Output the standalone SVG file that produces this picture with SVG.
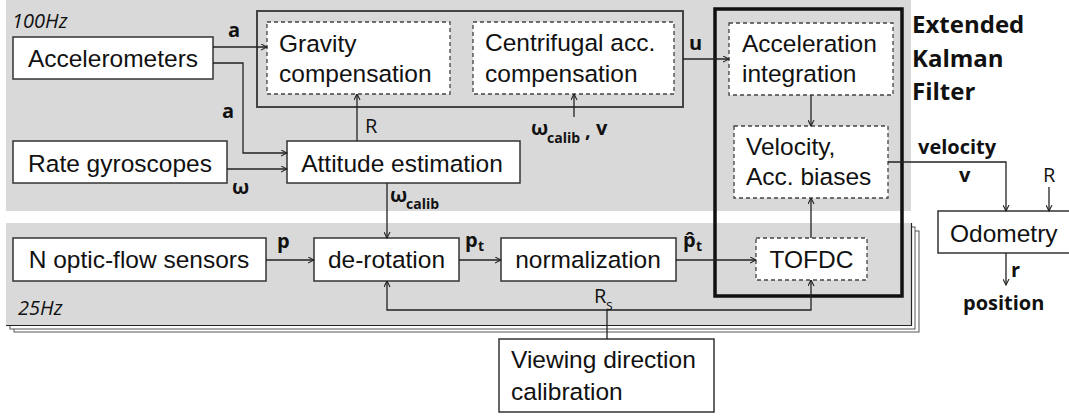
<svg xmlns="http://www.w3.org/2000/svg" width="1069" height="416" viewBox="0 0 1069 416">
<style>
.box{fill:#fff;stroke:#333;stroke-width:1.5}
.dbox{fill:#fff;stroke:#444;stroke-width:1.3;stroke-dasharray:4,3}
.t{font-family:"Liberation Sans",Arial,sans-serif;font-size:24.5px;fill:#111}
.b{font-family:"Open Sans",sans-serif;font-weight:bold;font-size:20px;fill:#111}
.r{font-family:"Open Sans",sans-serif;font-size:20px;fill:#111}
.i{font-family:"Open Sans",sans-serif;font-style:italic;font-size:20px;fill:#111}
.sub{font-family:"Open Sans",sans-serif;font-weight:bold;font-size:14px;fill:#111}
.c{fill:none;stroke:#222;stroke-width:1.3}
</style>
<defs>
<marker id="ah" viewBox="0 0 7 7" refX="6.5" refY="3.5" markerWidth="7" markerHeight="7" orient="auto" markerUnits="userSpaceOnUse">
<path d="M0.5,0.5 L6.5,3.5 L0.5,6.5" fill="none" stroke="#222" stroke-width="1.1"/>
</marker>
</defs>
<g id="background">
<rect x="6" y="0" width="905" height="211" fill="#d9d9d9"/>
<rect x="14" y="231" width="905" height="101" fill="#fff" stroke="#555" stroke-width="1"/>
<rect x="10" y="227" width="905" height="102" fill="#fff" stroke="#555" stroke-width="1"/>
<rect x="6" y="223" width="905" height="102" fill="#d9d9d9"/>
<path d="M6,325.5 H911.5 V223" fill="none" stroke="#222" stroke-width="1.2"/>
<text class="i" x="12" y="28">100Hz</text>
<text class="i" x="18" y="315">25Hz</text>
</g>
<g id="compensation-group">
<rect x="257" y="11" width="426" height="96" fill="#d9d9d9" stroke="#444" stroke-width="2"/>
</g>
<g id="ekf">
<rect x="715" y="9" width="187" height="287" fill="none" stroke="#111" stroke-width="3.5"/>
<text class="b" style="font-size:24px" x="912" y="33">Extended</text>
<text class="b" style="font-size:24px" x="912" y="67">Kalman</text>
<text class="b" style="font-size:24px" x="912" y="100">Filter</text>
</g>
<g id="accelerometers">
<rect class="box" x="13" y="37" width="200" height="42"/>
<text class="t" x="113" y="67" text-anchor="middle">Accelerometers</text>
</g>
<g id="rate-gyroscopes">
<rect class="box" x="13" y="141" width="214" height="42"/>
<text class="t" x="120" y="172" text-anchor="middle">Rate gyroscopes</text>
</g>
<g id="attitude-estimation">
<rect class="box" x="287" y="141" width="233" height="42"/>
<text class="t" x="402" y="172" text-anchor="middle">Attitude estimation</text>
</g>
<g id="gravity-compensation">
<rect class="dbox" x="267" y="22" width="183" height="72"/>
<text class="t" x="279" y="52">Gravity</text>
<text class="t" x="279" y="82">compensation</text>
</g>
<g id="centrifugal-compensation">
<rect class="dbox" x="473" y="22" width="201" height="72"/>
<text class="t" x="485" y="51">Centrifugal acc.</text>
<text class="t" x="485" y="82">compensation</text>
</g>
<g id="acceleration-integration">
<rect class="dbox" x="729" y="23" width="164" height="72"/>
<text class="t" x="742" y="52">Acceleration</text>
<text class="t" x="742" y="82">integration</text>
</g>
<g id="velocity-biases">
<rect class="dbox" x="734" y="126" width="154" height="72"/>
<text class="t" x="746" y="155">Velocity,</text>
<text class="t" x="746" y="185">Acc. biases</text>
</g>
<g id="tofdc">
<rect class="dbox" x="756" y="238" width="111" height="42"/>
<text class="t" x="811.5" y="268" text-anchor="middle">TOFDC</text>
</g>
<g id="optic-flow-sensors">
<rect class="box" x="13" y="238" width="253" height="43"/>
<text class="t" x="139" y="268" text-anchor="middle">N optic-flow sensors</text>
</g>
<g id="de-rotation">
<rect class="box" x="314" y="238" width="145" height="43"/>
<text class="t" x="386.5" y="268" text-anchor="middle">de-rotation</text>
</g>
<g id="normalization">
<rect class="box" x="501" y="238" width="175" height="43"/>
<text class="t" x="588" y="268" text-anchor="middle">normalization</text>
</g>
<g id="viewing-direction-calibration">
<rect class="box" x="499" y="339" width="215" height="73"/>
<text class="t" x="511" y="368">Viewing direction</text>
<text class="t" x="511" y="400">calibration</text>
</g>
<g id="odometry">
<rect class="box" x="938" y="211" width="135" height="42"/>
<text class="t" x="950" y="242">Odometry</text>
</g>
<g id="connectors">
<path class="c" d="M213,47 H267" marker-end="url(#ah)"/>
<path class="c" d="M213,63 H243 V153 H287" marker-end="url(#ah)"/>
<path class="c" d="M227,169 H287" marker-end="url(#ah)"/>
<path class="c" d="M357,141 V94" marker-end="url(#ah)"/>
<path class="c" d="M574,117 V94" marker-end="url(#ah)"/>
<path class="c" d="M683,59 H729" marker-end="url(#ah)"/>
<path class="c" d="M811,95 V126" marker-end="url(#ah)"/>
<path class="c" d="M811,238 V198" marker-end="url(#ah)"/>
<path class="c" d="M888,162 H1006 V211" marker-end="url(#ah)"/>
<path class="c" d="M1049,187 V211" marker-end="url(#ah)"/>
<path class="c" d="M1006,253 V285" marker-end="url(#ah)"/>
<path class="c" d="M387,183 V238" marker-end="url(#ah)"/>
<path class="c" d="M266,260 H314" marker-end="url(#ah)"/>
<path class="c" d="M459,260 H501" marker-end="url(#ah)"/>
<path class="c" d="M676,260 H756" marker-end="url(#ah)"/>
<path class="c" d="M607,339 V310"/>
<path class="c" d="M607,310 H387 V281" marker-end="url(#ah)"/>
<path class="c" d="M607,310 H811 V280" marker-end="url(#ah)"/>
<text class="b" x="228" y="37">a</text>
<text class="b" x="222" y="118">a</text>
<text class="b" x="232" y="194">ω</text>
<text class="r" x="365" y="133">R</text>
<text class="b" x="531" y="135">ω</text>
<text class="sub" x="547" y="143">calib</text>
<text class="b" x="585" y="137">,</text>
<text class="b" x="596" y="135">v</text>
<text class="b" x="689" y="50">u</text>
<text class="b" x="390" y="202">ω</text>
<text class="sub" x="406" y="209">calib</text>
<text class="b" x="277" y="248">p</text>
<text class="b" x="465" y="247">p</text>
<text class="sub" x="478" y="251">t</text>
<text class="b" x="683" y="247">p̂</text>
<text class="sub" x="696" y="251">t</text>
<text class="r" x="594" y="303">R</text>
<text class="r" style="font-size:14px" x="606" y="310">s</text>
<text class="b" x="918" y="154">velocity</text>
<text class="b" x="959" y="182">v</text>
<text class="r" x="1043" y="182">R</text>
<text class="b" x="1011" y="277">r</text>
<text class="b" x="963" y="310">position</text>
</g>
</svg>
